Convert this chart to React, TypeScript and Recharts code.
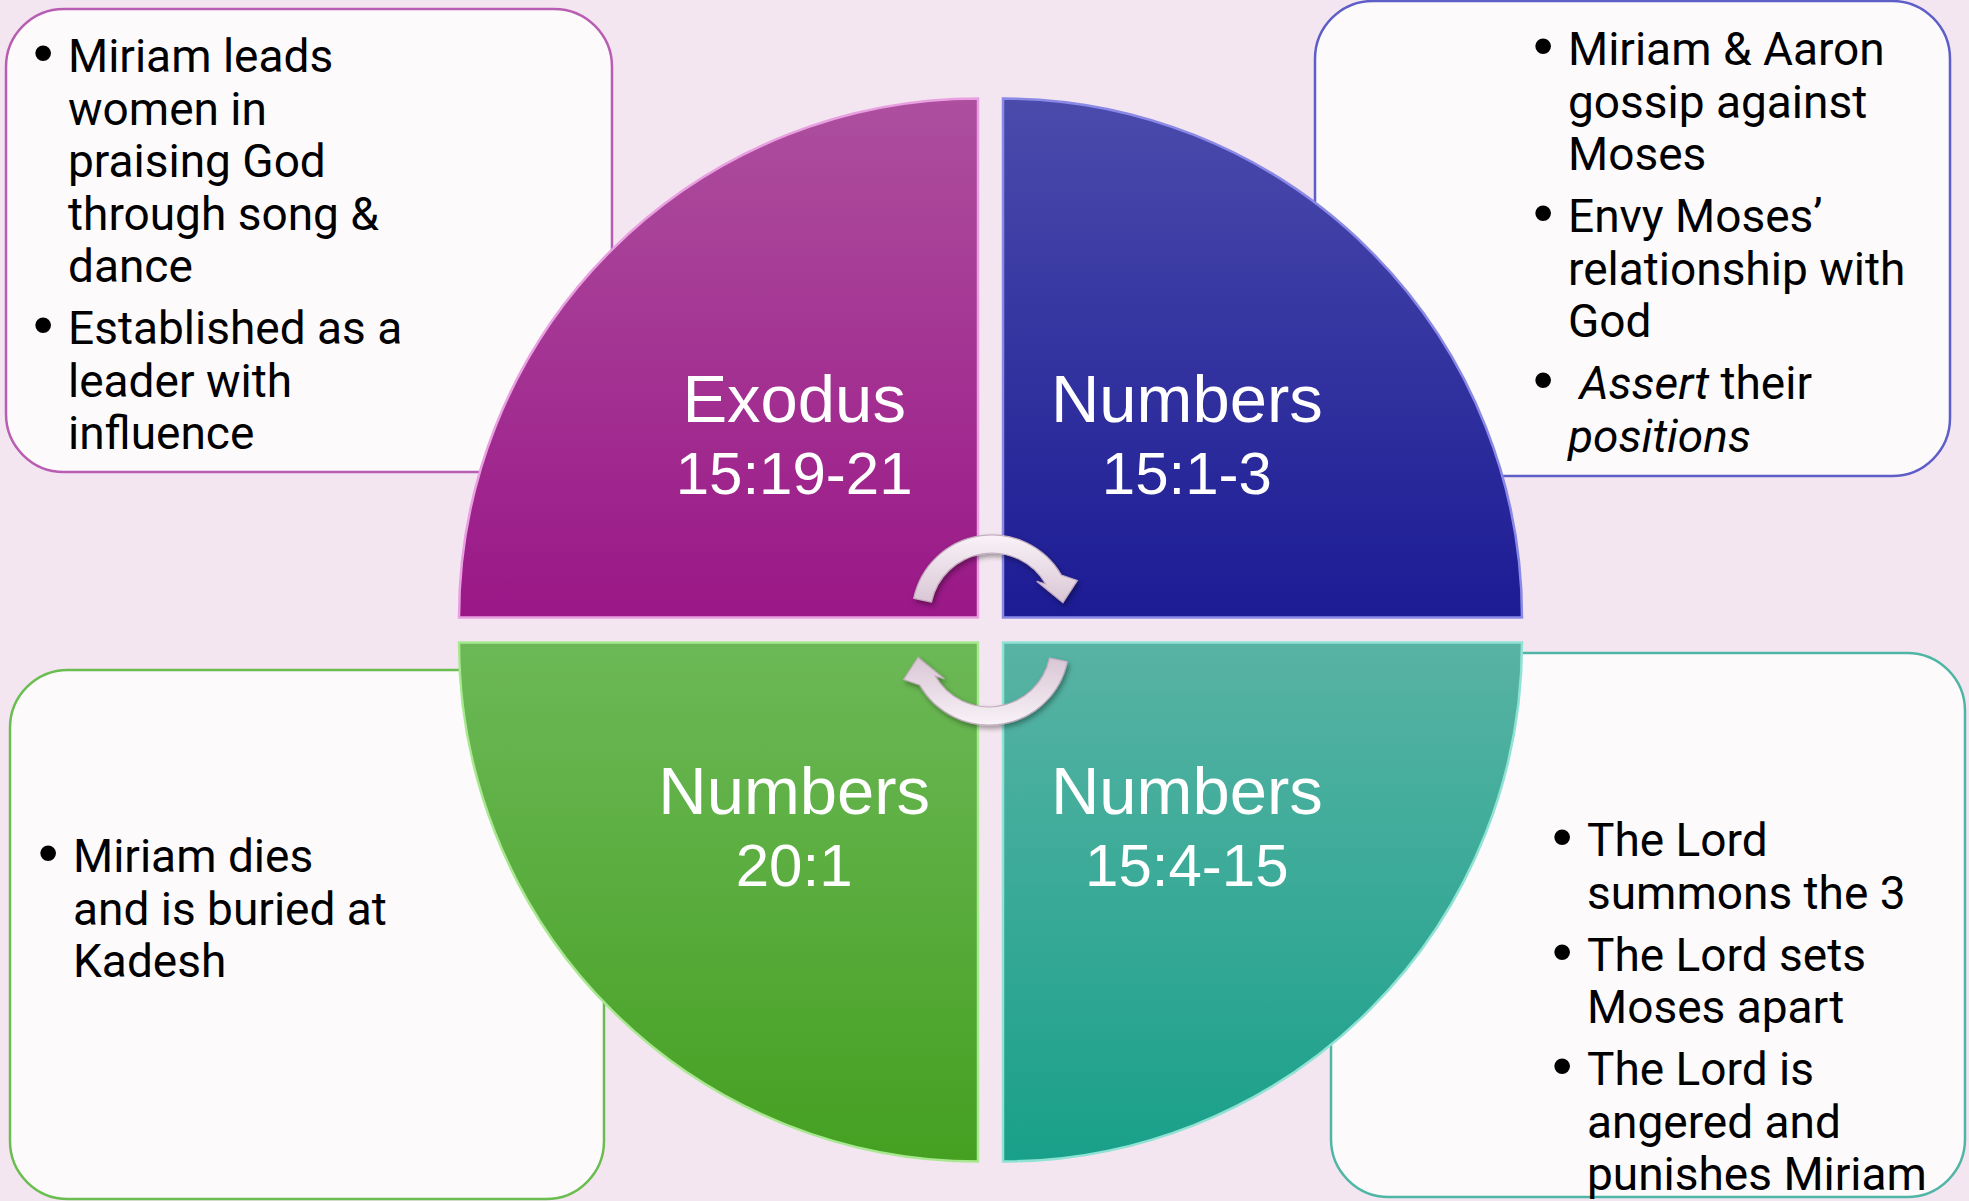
import React from 'react'
import { PieChart, Pie, Cell } from 'recharts'

const W = 1969
const H = 1201

// quadrants, clockwise starting top-left
const books = ['Exodus', 'Numbers', 'Numbers', 'Numbers']
const refs = ['15:19-21', '15:1-3', '15:4-15', '20:1']
const shares = [1, 1, 1, 1]

// side notes (lines as they wrap in the picture, *x* = italic)
const notesTopLeft = [
  ['Miriam leads', 'women in', 'praising God', 'through song &', 'dance'],
  ['Established as a', 'leader with', 'influence'],
]
const notesTopRight = [
  ['Miriam & Aaron', 'gossip against', 'Moses'],
  ['Envy Moses\u2019', 'relationship with', 'God'],
  [' *Assert* their', '*positions*'],
]
const notesBottomRight = [
  ['The Lord', 'summons the 3'],
  ['The Lord sets', 'Moses apart'],
  ['The Lord is', 'angered and', 'punishes Miriam'],
]
const notesBottomLeft = [['Miriam dies', 'and is buried at', 'Kadesh']]

// layout
const CX = 990.5
const CY = 630
const GAP = 12.5
const R = 519
const quads = [
  { dx: -1, dy: -1, start: 90, end: 180, top: '#ad4f9e', bottom: '#9a1787', edge: '#e8a0e0' },
  { dx: 1, dy: -1, start: 0, end: 90, top: '#4b4bac', bottom: '#1c1b94', edge: '#8a8ae6' },
  { dx: 1, dy: 1, start: -90, end: 0, top: '#58b3a4', bottom: '#19a08a', edge: '#90e2d4' },
  { dx: -1, dy: 1, start: 180, end: 270, top: '#6cb857', bottom: '#45a021', edge: '#a8e890' },
]

const boxes = [
  { notes: notesTopLeft, x: 6, y: 9, w: 606, h: 463, stroke: '#b85eb2', bullet: 33, text: 68, base: 72 },
  { notes: notesTopRight, x: 1315, y: 1, w: 635, h: 475, stroke: '#5e5ec8', bullet: 1533, text: 1568, base: 65 },
  { notes: notesBottomRight, x: 1331, y: 653, w: 634, h: 544, stroke: '#4fb6a6', bullet: 1552, text: 1587, base: 856 },
  { notes: notesBottomLeft, x: 10, y: 670, w: 594, h: 529, stroke: '#6abd4f', bullet: 38, text: 73, base: 872 },
]

const NOTE_FONT = "Roboto, 'Noto Sans', sans-serif"
const LABEL_FONT = "'Liberation Sans', Arial, sans-serif"
const LINE = 52.5
const PARA = 9.5

function NoteBox({ b }: { b: any }) {
  const rows: React.ReactNode[] = []
  let y = b.base
  b.notes.forEach((para: string[], pi: number) => {
    if (pi > 0) y += PARA
    para.forEach((line, li) => {
      if (li === 0) {
        rows.push(
          <text key={`b${pi}`} x={b.bullet} y={y} fontSize={58} fontFamily={LABEL_FONT} fill="#000">{'\u2022'}</text>
        )
      }
      rows.push(
        <text key={`${pi}-${li}`} x={b.text} y={y} fontSize={46} fontFamily={NOTE_FONT} fill="#000" style={{ whiteSpace: 'pre' }}>
          {line.split('*').map((seg, k) => (
            <tspan key={k} fontStyle={k % 2 ? 'italic' : 'normal'}>{seg}</tspan>
          ))}
        </text>
      )
      y += LINE
    })
  })
  return (
    <g>
      <rect x={b.x} y={b.y} width={b.w} height={b.h} rx={58} ry={58} fill="#fdfafc" stroke={b.stroke} strokeWidth={2.5} />
      {rows}
    </g>
  )
}

// curved arrow around (cx, cy), running clockwise
function arrowPath(cx: number, cy: number) {
  const p = (r: number, deg: number) => {
    const a = (deg * Math.PI) / 180
    return `${(cx + r * Math.cos(a)).toFixed(1)} ${(cy + r * Math.sin(a)).toFixed(1)}`
  }
  const rIn = 62, rOut = 80, a0 = 192, a1 = 330
  return `M ${p(rOut, a0)} A ${rOut} ${rOut} 0 0 1 ${p(rOut, a1)} L ${p(92, a1 + 8)} L ${p(72, 350)} L ${p(56, a1 - 7)} L ${p(rIn, a1)} A ${rIn} ${rIn} 0 0 0 ${p(rIn, a0)} Z`
}

const renderLabel = (i: number) => (props: any) => {
  const { cx, cy, midAngle } = props
  const a = (-midAngle * Math.PI) / 180
  const x = cx + 260 * Math.cos(a)
  const y = cy + 260 * Math.sin(a)
  return (
    <text x={x} textAnchor="middle" fill="#ffffff" fontFamily={LABEL_FONT}>
      <tspan x={x} y={y - 12} fontSize={67}>{books[i]}</tspan>
      <tspan x={x} y={y + 60} fontSize={60}>{refs[i]}</tspan>
    </text>
  )
}

export default function App() {
  const arrow = arrowPath(992, 615)
  return (
    <div style={{ position: 'absolute', left: 0, top: 0, width: W, height: H, background: '#f4e6f0', overflow: 'hidden' }}>
      <PieChart width={W} height={H} margin={{ top: 0, right: 0, bottom: 0, left: 0 }}>
        <defs>
          {quads.map((q, i) => (
            <linearGradient key={i} id={`qg${i}`} x1="0" y1="0" x2="0" y2="1">
              <stop offset="0%" stopColor={q.top} />
              <stop offset="100%" stopColor={q.bottom} />
            </linearGradient>
          ))}
        </defs>

        {boxes.map((b, i) => <NoteBox key={i} b={b} />)}

        {quads.map((q, i) => (
          <Pie
            key={i}
            data={[{ name: `${books[i]} ${refs[i]}`, value: shares[i] }]}
            dataKey="value"
            cx={CX + q.dx * GAP}
            cy={CY + q.dy * GAP}
            innerRadius={0}
            outerRadius={R}
            startAngle={q.start}
            endAngle={q.end}
            stroke={q.edge}
            strokeWidth={2.5}
            label={renderLabel(i)}
            labelLine={false}
            isAnimationActive={false}
          >
            <Cell fill={`url(#qg${i})`} />
          </Pie>
        ))}
      </PieChart>

      {/* cycle arrows sit above the quadrants */}
      <svg width={W} height={H} style={{ position: 'absolute', left: 0, top: 0, pointerEvents: 'none' }}>
        <defs>
          <linearGradient id="arrowFill" x1="0" y1="0" x2="0" y2="1">
            <stop offset="0%" stopColor="#f9f3f8" />
            <stop offset="100%" stopColor="#d9c6d5" />
          </linearGradient>
          <filter id="arrowShadow" x="-30%" y="-30%" width="160%" height="160%">
            <feDropShadow dx="2" dy="3" stdDeviation="2.5" floodColor="#000" floodOpacity="0.35" />
          </filter>
        </defs>
        <g filter="url(#arrowShadow)">
          <path d={arrow} fill="url(#arrowFill)" stroke="#c3adbf" strokeWidth={1.2} />
          <path d={arrow} fill="url(#arrowFill)" stroke="#c3adbf" strokeWidth={1.2} transform={`rotate(180 ${CX} ${CY})`} />
        </g>
      </svg>
    </div>
  )
}
